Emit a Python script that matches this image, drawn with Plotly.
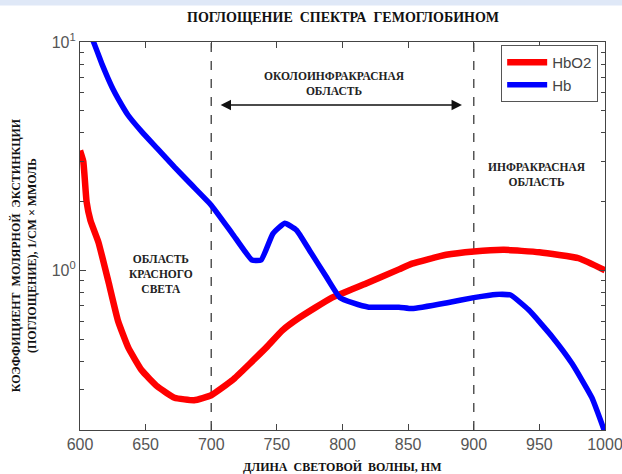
import math
import plotly.graph_objects as go

# ---- data ----
hb_nm = [608, 609, 613, 617, 621, 625, 629, 636.5, 647, 659, 672, 685, 700, 716, 731, 738, 747, 756,
         765, 775, 788, 798, 808, 820, 843, 853, 879, 900, 917, 928, 942, 960, 975, 990, 1000]
hb_val = [10.8, 10.47, 9.12, 7.94, 7.0, 6.24, 5.65, 4.79, 4.05, 3.41, 2.83, 2.37, 1.93, 1.45, 1.11, 1.11,
          1.45, 1.61, 1.50, 1.22, 0.93, 0.76, 0.72, 0.69, 0.69, 0.68, 0.72, 0.76, 0.785, 0.78, 0.67,
          0.51, 0.39, 0.277, 0.195]

hbo2_nm = [600, 602.5, 605, 608, 614, 621.5, 629, 636.7, 647, 659, 672, 687, 700, 716, 742, 754, 767,
           792, 818, 843, 853, 879, 900, 923, 950, 980, 1000]
hbo2_val = [3.35, 3.0, 2.0, 1.65, 1.33, 0.90, 0.60, 0.46, 0.365, 0.31, 0.277, 0.27, 0.284, 0.33,
            0.46, 0.545, 0.62, 0.76, 0.877, 1.01, 1.07, 1.17, 1.21, 1.23, 1.2, 1.13, 1.0]

x_ticks = [600, 650, 700, 750, 800, 850, 900, 950, 1000]
y_ticks = [1, 10]
y_ticktext = ["10<sup>0</sup>", "10<sup>1</sup>"]
y_minor = [0.2, 0.3, 0.4, 0.5, 0.6, 0.7, 0.8, 0.9, 2, 3, 4, 5, 6, 7, 8, 9]
region_bounds = [700, 900]

title_text = "ПОГЛОЩЕНИЕ  СПЕКТРА  ГЕМОГЛОБИНОМ"
xlabel = "ДЛИНА  СВЕТОВОЙ  ВОЛНЫ, НМ"
ylabel = "КОЭФФИЦИЕНТ  МОЛЯРНОЙ  ЭКСТИНКЦИИ<br>(ПОГЛОЩЕНИЕ), 1/СМ × ММОЛЬ"

serif = "Liberation Serif, Times New Roman, serif"
sans = "Liberation Sans, Arial, sans-serif"

L = math.log10  # annotation positions on a log axis are given in log10 units

fig = go.Figure()
fig.add_trace(go.Scatter(x=hbo2_nm, y=hbo2_val, mode="lines", name="HbO2",
                         line=dict(color="#ff0000", width=6.5, shape="spline", smoothing=0.4)))
fig.add_trace(go.Scatter(x=hb_nm, y=hb_val, mode="lines", name="Hb",
                         line=dict(color="#0000ff", width=5.5, shape="spline", smoothing=0.4)))

for b in region_bounds:
    fig.add_shape(type="line", xref="x", yref="paper", x0=b, x1=b, y0=0, y1=1,
                  line=dict(color="#555555", width=1.5, dash="dash"), layer="below")

# thin light-blue band at the top of the picture
fig.add_shape(type="rect", xref="paper", yref="paper", x0=-0.2, x1=1.1, y0=1.094, y1=1.12,
              fillcolor="#dfe8f7", line=dict(width=0))

# double arrow over the near-infrared region
fig.add_annotation(x=891, y=L(5.3), ax=706, ay=L(5.3), xref="x", yref="y", axref="x", ayref="y",
                   text="", showarrow=True, arrowhead=2, arrowside="end+start",
                   arrowsize=1.3, arrowwidth=1.6, arrowcolor="#111111")

ann_font = dict(family=serif, size=11.5, color="#222222")
fig.add_annotation(x=794, y=L(6.6), xref="x", yref="y", showarrow=False,
                   text="<b>ОКОЛОИНФРАКРАСНАЯ<br>ОБЛАСТЬ</b>", font=ann_font)
fig.add_annotation(x=662, y=L(0.96), xref="x", yref="y", showarrow=False,
                   text="<b>ОБЛАСТЬ<br>КРАСНОГО<br>СВЕТА</b>", font=ann_font)
fig.add_annotation(x=948, y=L(2.64), xref="x", yref="y", showarrow=False,
                   text="<b>ИНФРАКРАСНАЯ<br>ОБЛАСТЬ</b>", font=ann_font)

# title, axis titles
fig.add_annotation(x=0.5, y=1.062, xref="paper", yref="paper", showarrow=False,
                   xanchor="center", yanchor="middle",
                   text="<b>" + title_text + "</b>",
                   font=dict(family=serif, size=14, color="#111111"))
fig.add_annotation(x=0.5, y=-0.096, xref="paper", yref="paper", showarrow=False,
                   xanchor="center", yanchor="middle",
                   text="<b>" + xlabel + "</b>",
                   font=dict(family=serif, size=12, color="#111111"))
fig.add_annotation(x=-0.105, y=0.45, xref="paper", yref="paper", showarrow=False,
                   xanchor="center", yanchor="middle",
                   textangle=-90, text="<b>" + ylabel + "</b>",
                   font=dict(family=serif, size=12, color="#111111"))

axis_common = dict(showline=True, linecolor="#444444", linewidth=1.2, mirror="ticks",
                   ticks="inside", tickcolor="#444444", showgrid=False, zeroline=False,
                   tickfont=dict(family=sans, size=16, color="#555555"),
                   ticklabeloverflow="allow", automargin=False)

fig.update_xaxes(range=[600, 1000], tickmode="array", tickvals=x_ticks, ticklen=6,
                 **axis_common)
fig.update_yaxes(type="log", range=[-0.699, 1], tickmode="array", tickvals=y_ticks,
                 ticktext=y_ticktext, ticklen=6,
                 minor=dict(tickmode="array", tickvals=y_minor, ticks="inside", ticklen=4,
                            tickcolor="#444444", showgrid=False),
                 **axis_common)

fig.update_layout(
    width=622, height=474,
    margin=dict(l=80, r=17, t=42, b=44, autoexpand=False),
    paper_bgcolor="white", plot_bgcolor="white",
    showlegend=True,
    legend=dict(x=0.987, y=0.992, xanchor="right", yanchor="top",
                bordercolor="#555555", borderwidth=1, bgcolor="white",
                font=dict(family=sans, size=15, color="#444444"),
                itemwidth=40, tracegroupgap=0),
)

fig.write_html("out.html")
